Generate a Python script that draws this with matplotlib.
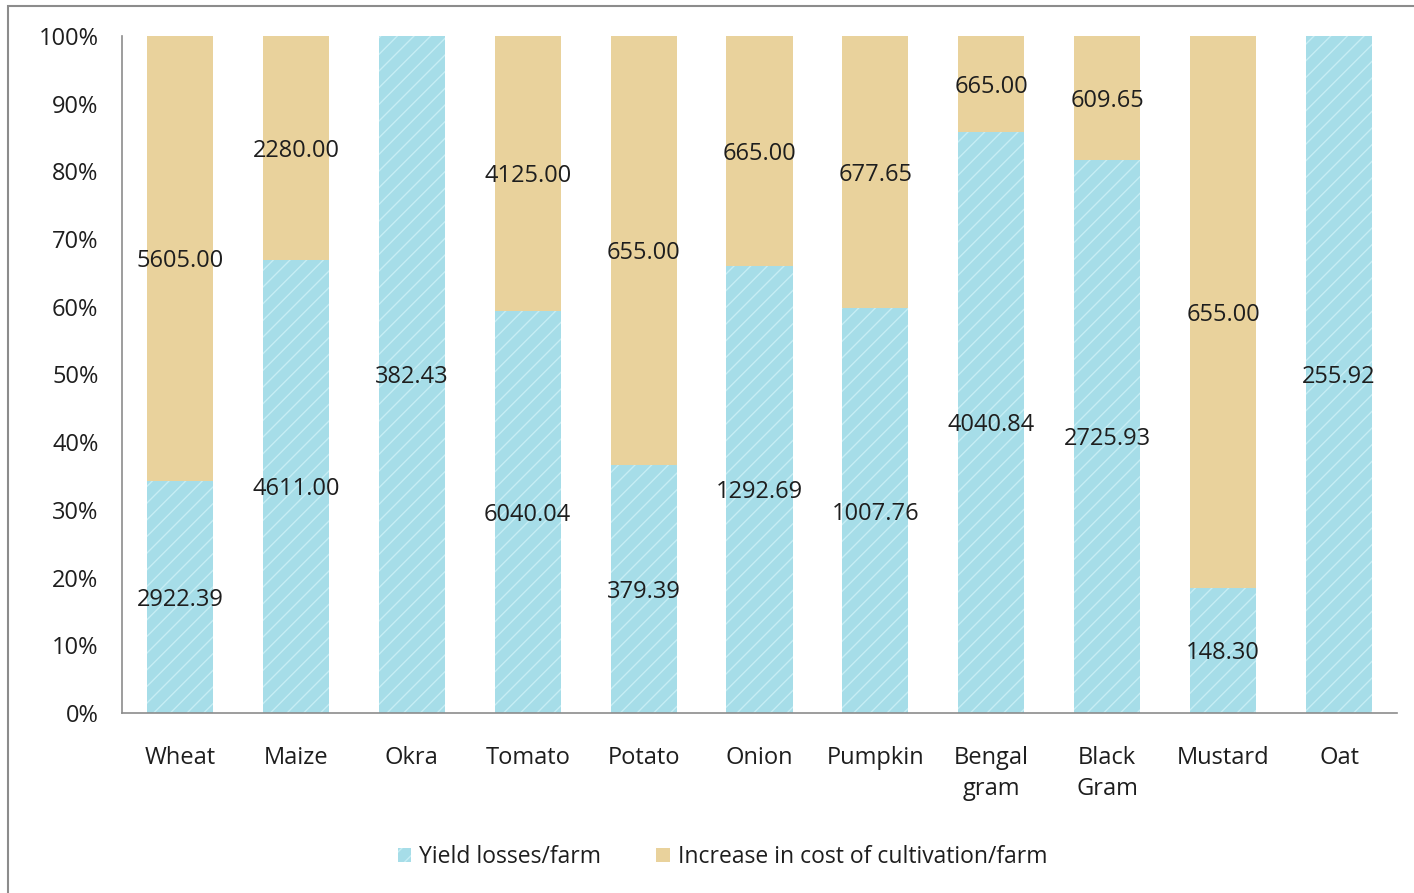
import matplotlib
matplotlib.use("Agg")
import matplotlib.pyplot as plt
import numpy as np
from matplotlib.patches import Rectangle

categories = ["Wheat", "Maize", "Okra", "Tomato", "Potato", "Onion", "Pumpkin",
              "Bengal\ngram", "Black\nGram", "Mustard", "Oat"]
yield_losses = [2922.39, 4611.00, 382.43, 6040.04, 379.39, 1292.69, 1007.76,
                4040.84, 2725.93, 148.30, 255.92]
cost_increase = [5605.00, 2280.00, 0.0, 4125.00, 655.00, 665.00, 677.65,
                 665.00, 609.65, 655.00, 0.0]
yticks = [0, 10, 20, 30, 40, 50, 60, 70, 80, 90, 100]

plt.rcParams['font.family'] = ['Open Sans', 'DejaVu Sans']
plt.rcParams['hatch.color'] = "#c6edf4"

blue = "#a6dde8"
tan = "#e9d29c"
txt = "#1e1e1e"
fs = 17

y = np.array(yield_losses)
c = np.array(cost_increase)
tot = y + c
yp = y / tot * 100
cp = c / tot * 100

fig = plt.figure(figsize=(14.14, 8.93), dpi=100)
ax = fig.add_axes([0.0863, 0.2016, 0.9017, 0.7581])
x = np.arange(len(categories))
w = 0.57
ax.bar(x, yp, width=w, color=blue, label="Yield losses/farm", hatch="//",
       edgecolor="#c6edf4", linewidth=0)
ax.bar(x, cp, bottom=yp, width=w, color=tan, label="Increase in cost of cultivation/farm",
       edgecolor="#e9d29c", linewidth=0)

for i in range(len(categories)):
    ax.text(x[i], yp[i] / 2, f"{yield_losses[i]:.2f}", ha="center", va="center_baseline",
            fontsize=fs, color=txt)
    if cost_increase[i] > 0:
        ax.text(x[i], yp[i] + cp[i] / 2, f"{cost_increase[i]:.2f}", ha="center",
                va="center_baseline", fontsize=fs, color=txt)

ax.set_xlim(-0.5, len(categories) - 0.5)
ax.set_ylim(0, 100)
ax.set_yticks(yticks)
ax.set_yticklabels([f"{t}%" for t in yticks], fontsize=fs, color=txt)
ax.set_xticks(x)
ax.set_xticklabels(categories, fontsize=fs, color=txt, linespacing=1.35)
ax.tick_params(axis="both", length=0)
ax.tick_params(axis="y", pad=17)
ax.tick_params(axis="x", pad=24)
for s in ["top", "right"]:
    ax.spines[s].set_visible(False)
for s in ["left", "bottom"]:
    ax.spines[s].set_color("#8c8c8c")
    ax.spines[s].set_linewidth(1.2)

leg = fig.legend(loc="center", bbox_to_anchor=(0.511, 0.04), ncol=2, frameon=False,
                 fontsize=16.5, handlelength=0.6, handleheight=0.6, columnspacing=2.4,
                 handletextpad=0.35)
for t in leg.get_texts():
    t.set_color(txt)

fig.patches.append(Rectangle((8 / 1414, -0.1), 1.2, 1 - 6 / 893 + 0.1,
                             transform=fig.transFigure, fill=False,
                             edgecolor="#8c8c8c", linewidth=1.5))

fig.savefig("out.png", dpi=100)
